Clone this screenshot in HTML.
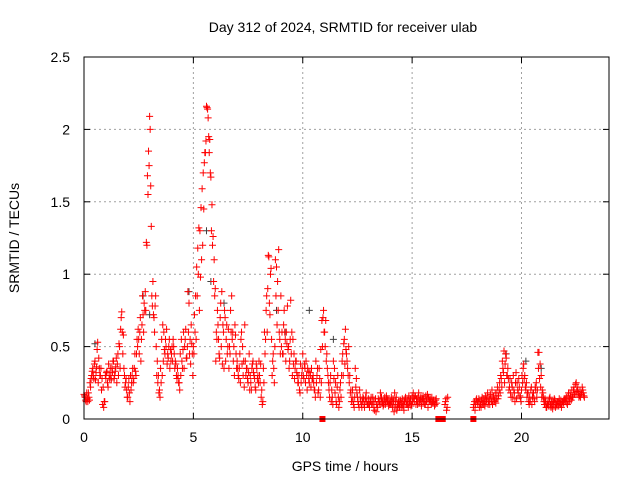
<!DOCTYPE html>
<html><head><meta charset="utf-8"><style>
body{margin:0;background:#fff;}
svg{display:block;font-family:"Liberation Sans",sans-serif;}
</style></head><body>
<svg id="chart" width="640" height="480" viewBox="0 0 640 480" xmlns="http://www.w3.org/2000/svg">
<rect width="640" height="480" fill="#fff"/>
<g id="grid"></g>
<g id="gray"></g>
<g id="red"></g>
<rect x="84" y="57" width="525" height="362" fill="none" stroke="#000" stroke-width="1"/>
<g id="ticks"></g>
<text x="343" y="32" font-size="14" text-anchor="middle">Day 312 of 2024, SRMTID for receiver ulab</text>
<text x="345" y="471" font-size="14" text-anchor="middle">GPS time / hours</text>
<text x="19" y="238" font-size="14" text-anchor="middle" transform="rotate(-90 19 238)">SRMTID / TECUs</text>
</svg>
<script>
const xTicks=[0,5,10,15,20];
const yTicks=[0,0.5,1,1.5,2,2.5];
const yTickLabels=["0","0.5","1","1.5","2","2.5"];
// hourly blocks: 20 samples per hour (every 3 minutes), two satellites per sample
const hours=[0,1,2,3,4,5,6,7,8,9,10,11,12,13,14,15,16,17,18,19,20,21,22];
const _=null;
const srmtidA=[
[.17,.15,.12,.14,.18,.13,.22,.30,.35,.28,.40,.32,.48,.25,.35,.30,.20,.10,.08,.12],
[.28,.33,.22,.30,.35,.27,.32,.40,.30,.36,.25,.45,.52,.35,.70,.60,.58,.30,.25,.20],
[.15,.28,.12,.20,.30,.25,.35,.33,.45,.50,.55,.60,.40,.65,.72,.80,.88,1.22,1.68,1.85],
[2.09,1.61,.85,.95,.70,.78,.50,.40,.30,.20,.35,.55,.65,.60,.45,.50,.38,.42,.55,.48],
[.45,.40,.50,.35,.38,.28,.30,.25,.45,.55,.35,.60,.50,.62,.42,.88,.80,.55,.65,.45],
[.50,.72,.85,1.05,1.18,1.32,1.30,1.46,1.59,1.70,1.77,1.84,2.16,2.14,1.95,1.93,1.67,1.48,1.26,1.10],
[.90,.60,.75,.55,.42,.80,.88,.65,.35,.70,.55,.45,.62,.50,.75,.85,.60,.50,.65,.45],
[.40,.30,.35,.25,.60,.50,.40,.65,.30,.35,.25,.45,.30,.20,.38,.32,.28,.20,.35,.30],
[.40,.25,.15,.10,.35,.60,.55,.85,.90,1.12,.72,1.04,.30,.45,.25,1.10,1.05,.95,1.17,.55],
[.85,.60,.45,.75,.55,.60,.78,.50,.40,.82,.60,.55,.45,.35,.40,.30,.25,.20,.38,.30],
[.45,.28,.35,.40,.20,.33,.25,.30,.35,.28,.25,.20,.40,.30,.18,.35,.15,.25,.50,.75],
[.60,.68,.45,.30,.20,.25,.12,.15,.40,.35,.25,.10,.30,.08,.20,.15,.40,.30,.55,.62],
[.45,.35,.50,.30,.20,.15,.12,.08,.35,.28,.15,.10,.20,.12,.08,.15,.10,.12,.18,.10],
[.14,.08,.12,.10,.15,.08,.12,.05,.10,.14,.12,.18,.15,.12,.10,.15,.12,.14,.13,.10],
[.12,.15,.08,.12,.18,.13,.06,.08,.10,.12,.08,.14,.10,.12,.15,.10,.13,.16,.12,.09],
[.15,.18,.12,.16,.14,.10,.18,.13,.15,.12,.16,.14,.10,.12,.17,.15,.13,.12,.15,.11],
[.12,.10,.14,_,_,_,_,_,_,_,.10,.14,.08,_,_,_,_,_,_,_],
[_,_,_,_,_,_,_,_,_,_,_,_,_,_,_,_,.08,.12,.10,.14],
[.10,.14,.12,.08,.15,.10,.12,.16,.13,.18,.12,.10,.14,.20,.15,.12,.18,.14,.22,.16],
[.25,.30,.22,.35,.47,.38,.42,.30,.28,.22,.18,.25,.15,.20,.12,.32,.25,.18,.22,.15],
[.20,.25,.38,.30,.20,.15,.18,.10,.12,.22,.15,.18,.12,.20,.15,.46,.46,.38,.30,.20],
[.15,.10,.12,.08,.10,.12,.15,.08,.10,.12,.14,.08,.10,.12,.09,.11,.13,.10,.12,.14],
[.12,.15,.10,.18,.14,.16,.20,.15,.22,.18,.25,.20,.18,.16,.15,.18,.20,.16,_,_]
];
const srmtidB=[
[.16,.13,.18,.12,.15,.25,.28,.33,.30,.38,.27,.36,.53,.42,.30,.35,.28,.22,.12,.30],
[.32,.25,.38,.28,.30,.35,.40,.28,.33,.42,.38,.30,.50,.62,.74,.45,.35,.22,.28,.15],
[.22,.18,.30,.25,.35,.28,.45,.30,.55,.62,.45,.70,.55,.85,.60,.75,.75,1.20,1.55,1.75],
[2.00,1.33,.78,.72,.60,.85,.30,.25,.18,.15,.25,.30,.40,.48,.55,.62,.45,.50,.35,.40],
[.50,.55,.45,.40,.30,.35,.25,.20,.30,.40,.48,.35,.55,.42,.50,.60,.45,.38,.52,.30],
[.45,.60,.55,.85,1.00,.75,.98,1.10,1.20,1.45,1.84,1.92,2.15,2.08,1.84,1.70,1.30,1.20,.95,.85],
[.40,.55,.65,.45,.70,.50,.38,.60,.75,.40,.65,.50,.35,.45,.60,.55,.40,.30,.58,.35],
[.35,.28,.45,.55,.38,.30,.22,.40,.35,.28,.32,.20,.25,.35,.40,.30,.22,.38,.28,.25],
[.30,.38,.20,.12,.25,.45,.75,.60,1.13,.80,1.00,.55,.40,.35,.50,.85,.65,.75,.60,.45],
[.50,.45,.65,.60,.40,.52,.48,.35,.55,.45,.30,.38,.28,.40,.32,.25,.30,.18,.25,.35],
[.30,.38,.25,.30,.35,.28,.32,.22,.28,.30,.20,.15,.25,.35,.20,.28,.48,.68,.70,.60],
[.50,.40,.35,.25,.15,.30,.20,.10,.28,.18,.12,.22,.15,.12,.25,.30,.45,.52,.38,.48],
[.40,.30,.25,.18,.12,.20,.10,.15,.22,.18,.12,.08,.15,.10,.12,.14,.08,.15,.12,.10],
[.10,.12,.15,.10,.12,.06,.14,.10,.08,.12,.10,.14,.11,.09,.13,.10,.16,.12,.09,.11],
[.10,.12,.14,.05,.09,.15,.10,.12,.08,.13,.11,.09,.06,.14,.12,.10,.08,.11,.14,.10],
[.12,.14,.16,.10,.12,.15,.11,.13,.09,.14,.12,.10,.16,.13,.08,.12,.14,.10,.12,.13],
[.09,.13,.11,_,_,_,_,_,_,_,.12,.06,.15,_,_,_,_,_,_,_],
[_,_,_,_,_,_,_,_,_,_,_,_,_,_,_,_,.10,.06,.13,.12],
[.12,.08,.10,.13,.11,.14,.09,.12,.15,.10,.14,.17,.12,.10,.16,.13,.11,.18,.14,.20],
[.18,.28,.40,.32,.25,.45,.30,.35,.20,.28,.15,.22,.30,.18,.25,.14,.20,.28,.16,.12],
[.30,.35,.28,.22,.25,.18,.12,.15,.20,.10,.18,.14,.22,.25,.20,.35,.28,.22,.15,.18],
[.12,.14,.08,.11,.09,.14,.10,.12,.07,.10,.13,.11,.09,.12,.14,.10,.08,.12,.11,.13],
[.14,.11,.16,.12,.18,.13,.15,.20,.17,.24,.19,.22,.15,.20,.17,.22,.18,.15,_,_]
];
const grayT=[0.5,2.7,3.0,4.8,5.6,5.8,6.4,8.8,9.2,10.3,11.4,19.3,20.2,20.9];
const grayV=[0.52,0.85,0.72,0.88,1.3,0.95,0.8,0.75,0.6,0.75,0.55,0.45,0.4,0.35];
const zeroT=[10.9,16.2,16.3,16.4,17.8];
const zeroV=[0,0,0,0,0];
const X=t=>84+t*(525/24), Y=v=>419-v*(362/2.5);
const ns="http://www.w3.org/2000/svg";
const grid=document.getElementById('grid'),ticks=document.getElementById('ticks');
function mk(tag,attrs,parent){const e=document.createElementNS(ns,tag);for(const k in attrs)e.setAttribute(k,attrs[k]);parent.appendChild(e);return e;}
xTicks.forEach(t=>{const x=X(t);
 if(t>0){const g=mk('line',{x1:x,x2:x,y1:57,y2:419,stroke:'#a0a0a0','stroke-dasharray':'2,3'},grid);}
 mk('line',{x1:x,x2:x,y1:419,y2:413,stroke:'#000'},ticks);mk('line',{x1:x,x2:x,y1:57,y2:63,stroke:'#000'},ticks);
 const l=mk('text',{x:x,y:442,'font-size':14,'text-anchor':'middle'},ticks);l.textContent=String(t);
 });
yTicks.forEach((v,i)=>{const y=Y(v);
 if(v>0&&v<2.5){const g=mk('line',{x1:84,x2:609,y1:y,y2:y,stroke:'#a0a0a0','stroke-dasharray':'2,3'},grid);}
 mk('line',{x1:84,x2:90,y1:y,y2:y,stroke:'#000'},ticks);mk('line',{x1:609,x2:603,y1:y,y2:y,stroke:'#000'},ticks);
 const l=mk('text',{x:70,y:y+5,'font-size':14,'text-anchor':'end'},ticks);l.textContent=yTickLabels[i];
 });
function plus(ts,vs,col,id){const g=document.getElementById(id);let d='';
 ts.forEach((t,i)=>{const x=X(t),y=Y(vs[i]);d+=`M${x-3.5},${y}h7M${x},${y-3.5}v7`;});
 const p=mk('path',{d:d,stroke:col,'stroke-width':1,fill:'none'},g);
 }
plus(grayT,grayV,'#404040','gray');
function expand(blocks,offset){const ts=[],vs=[];
 blocks.forEach((row,h)=>row.forEach((v,i)=>{if(v!==null){ts.push(hours[h]+i*0.05+offset);vs.push(v);}}));
 return [ts,vs];}
const [aT,aV]=expand(srmtidA,0);
const [bT,bV]=expand(srmtidB,0.025);
plus(aT,aV,'#ff0000','red');
plus(bT,bV,'#ff0000','red');
const rg=document.getElementById('red');
zeroT.forEach((t,i)=>{const r=mk('rect',{x:X(t)-3,y:Y(zeroV[i])-3,width:6,height:6,fill:'#ff0000'},rg);
 });
</script>
</body></html>
